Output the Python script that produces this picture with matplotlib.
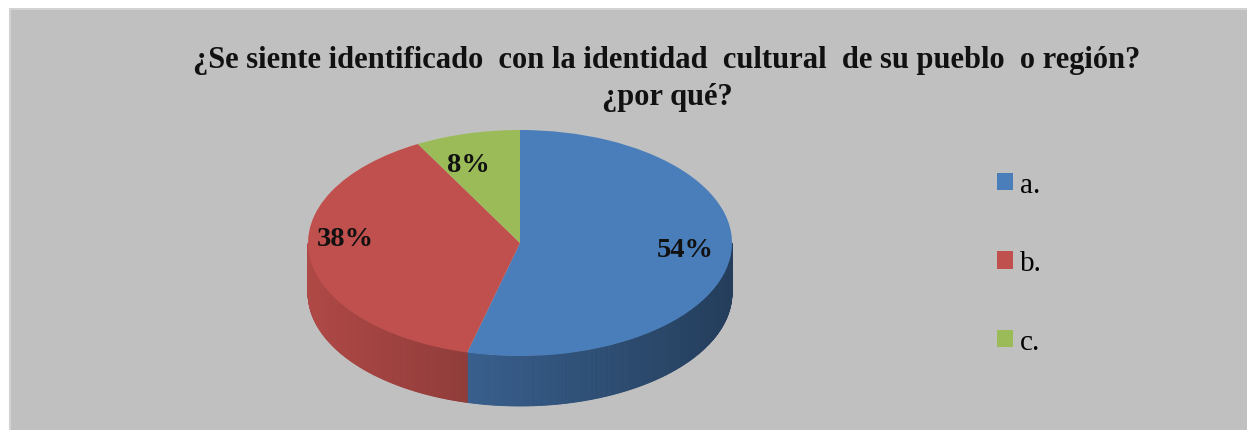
import numpy as np
import matplotlib
matplotlib.use("Agg")
import matplotlib.pyplot as plt
from matplotlib.patches import Rectangle, Polygon, Patch
from matplotlib.transforms import Affine2D
import matplotlib.colors as mcolors

# ---- data ----
categories = ["a.", "b.", "c."]
values = [54, 38, 8]
pct_labels = ["54%", "38%", "8%"]
colors = ["#4a7ebb", "#c0504d", "#9bbb59"]
title = "¿Se siente identificado  con la identidad  cultural  de su pueblo  o región?\n¿por qué?"

W, H = 1247, 431
fig = plt.figure(figsize=(W / 100, H / 100), dpi=100)
fig.patch.set_facecolor("white")
ax = fig.add_axes([0, 0, 1, 1])

# panel background
ax.add_patch(Rectangle((10, -5), W, H - 10 + 5, facecolor="#c0c0c0", edgecolor="#d2d2d2",
                       lw=1.5, zorder=0))

cx, cy = 520, H - 244        # pie centre (data units = pixels)
a = 212                      # horizontal radius
squash = 113 / 212           # vertical / horizontal ratio
depth = 50                   # side thickness

squash_tr = Affine2D().translate(-cx, -cy).scale(1, squash).translate(cx, cy)

# ---- side (front wall) ----
fracs = np.array(values, dtype=float) / sum(values)
start = 90.0
bounds = []
ang = start
for f in fracs:
    bounds.append((ang - 360 * f, ang))
    ang -= 360 * f

for (t0, t1), col in zip(bounds, colors):
    base = np.array(mcolors.to_rgb(col))
    thetas = np.linspace(t0, t1, 400)
    for th0, th1 in zip(thetas[:-1], thetas[1:]):
        s0, s1 = np.sin(np.radians(th0)), np.sin(np.radians(th1))
        if s0 > 0 and s1 > 0:
            continue
        tm = np.radians(0.5 * (th0 + th1))
        shade = 0.70 - 0.21 * np.cos(tm)
        c = np.clip(base * shade, 0, 1)
        xs0, xs1 = cx + a * np.cos(np.radians(th0)), cx + a * np.cos(np.radians(th1))
        y0 = cy + a * squash * min(s0, 0)
        y1 = cy + a * squash * min(s1, 0)
        poly = Polygon([(xs0, y0), (xs1, y1), (xs1, y1 - depth), (xs0, y0 - depth)],
                       closed=True, facecolor=c, edgecolor=c, lw=0.6, zorder=1)
        ax.add_patch(poly)

# ---- top face ----
wedges, _ = ax.pie(values, colors=colors, startangle=90, counterclock=False,
                   center=(cx, cy), radius=a, frame=True,
                   wedgeprops=dict(linewidth=0))
for w in wedges:
    w.set_transform(squash_tr + ax.transData)
    w.set_zorder(2)

# ---- percentage labels ----
label_r = [0.785, 0.832, 0.72]
label_dx = [0, 0, -14]
label_dy = [5, 16, 0]
for (t0, t1), lab, r, dx, dy in zip(bounds, pct_labels, label_r, label_dx, label_dy):
    tm = np.radians(0.5 * (t0 + t1))
    x = cx + r * a * np.cos(tm) + dx
    y = cy + r * a * squash * np.sin(tm) + dy
    ax.text(x, y, lab, ha="center", va="center", fontsize=20.5, fontweight="bold",
            family="Liberation Serif", color="#111111", zorder=3)

# ---- title ----
ax.text(667, H - 79, title, ha="center", va="center", fontsize=22, fontweight="bold",
        family="Liberation Serif", color="#111111", linespacing=1.38, zorder=3)

# ---- legend ----
handles = [Patch(facecolor=c, edgecolor="none") for c in colors]
leg = ax.legend(handles, categories, loc="upper left", bbox_to_anchor=(985 / W, 1 - 161 / H),
                frameon=False, prop=dict(family="Liberation Serif", size=21),
                labelspacing=1.80, handlelength=0.55, handleheight=0.55, handletextpad=0.25,
                borderaxespad=0)

ax.set_xlim(0, W)
ax.set_ylim(0, H)
ax.set_aspect("auto")
ax.axis("off")

fig.savefig("out.png", dpi=100, facecolor=fig.get_facecolor())
